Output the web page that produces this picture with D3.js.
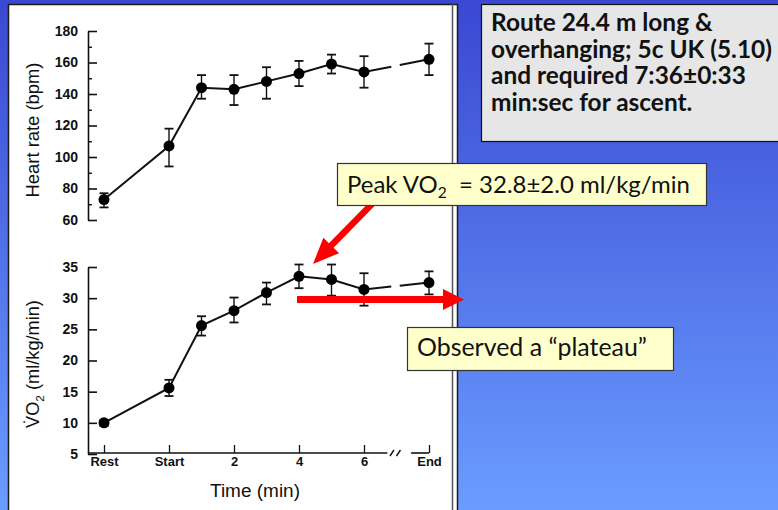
<!DOCTYPE html>
<html>
<head>
<meta charset="utf-8">
<script src="https://cdnjs.cloudflare.com/ajax/libs/d3/7.8.5/d3.min.js"></script>
<style>
  body { margin: 0; padding: 0; overflow: hidden; }
  svg { display: block; }
</style>
</head>
<body>
<div id="chart"></div>
<script>
// time axis: Rest = -2, Start = 0, End = 8 (minutes)
var tickTimes = [-2, 0, 2, 4, 6, 8];
var tickLabels = ["Rest", "Start", "2", "4", "6", "End"];
var pointTimes = [-2, 0, 1, 2, 3, 4, 5, 6, 8];

// heart rate (bpm)
var hrMean = [73, 107, 144, 143, 148, 153, 159, 154, 162];
var hrHigh = [77, 118, 152, 152, 157, 161, 165, 164, 172];
var hrLow  = [68, 94, 137, 133, 137, 145, 153, 144, 152];
var hrTicks = [60, 80, 100, 120, 140, 160, 180];
var hrMinor = [70, 90, 110, 130, 150, 170];

// VO2 (ml/kg/min)
var voMean = [10.0, 15.6, 25.6, 28.0, 30.9, 33.5, 33.0, 31.4, 32.5];
var voHigh = [10.5, 16.9, 27.1, 30.1, 32.5, 35.4, 35.4, 34.0, 34.3];
var voLow  = [9.5, 14.3, 24.0, 26.1, 29.0, 31.6, 30.4, 28.8, 30.6];
var voTicks = [5, 10, 15, 20, 25, 30, 35];

const W = 778, H = 510;
const svg = d3.select("#chart").append("svg")
    .attr("width", W)
    .attr("height", H);

// slide background
const defs = svg.append("defs");
const grad = defs.append("linearGradient")
    .attr("id", "bg").attr("x1", 0).attr("y1", 0).attr("x2", 0).attr("y2", 1);
grad.append("stop").attr("offset", "0%").attr("stop-color", "#3a48d2");
grad.append("stop").attr("offset", "100%").attr("stop-color", "#6a9cff");
svg.append("rect").attr("width", W).attr("height", H).attr("fill", "url(#bg)");

// white figure panel
svg.append("rect")
    .attr("x", 8.5).attr("y", 4.5)
    .attr("width", 449).attr("height", 520)
    .attr("fill", "#ffffff")
    .attr("stroke", "#1a1a1a").attr("stroke-width", 1.5);
svg.append("line")
    .attr("x1", 452.5).attr("x2", 452.5).attr("y1", 4).attr("y2", H)
    .attr("stroke", "#555").attr("stroke-width", 1.5);

// Define scales
const x = d3.scaleLinear().domain([-2, 8]).range([104, 429]);
const yHR = d3.scaleLinear().domain([60, 180]).range([220, 31]);
const yVO = d3.scaleLinear().domain([5, 35]).range([454, 267]);
const axisX = 88;

const scanFont = "'Liberation Sans', Arial, sans-serif";

function drawPanel(yScale, ticks, minor, mean, high, low) {
    const g = svg.append("g");

    // y axis, ticks pointing inward
    const ax = g.append("g")
        .attr("transform", `translate(${axisX},0)`)
        .call(d3.axisLeft(yScale).tickValues(ticks).tickSize(-9).tickSizeOuter(0).tickPadding(10));
    ax.select(".domain").attr("stroke", "#111").attr("stroke-width", 1.6);
    ax.selectAll(".tick line").attr("stroke", "#111").attr("stroke-width", 1.6);
    ax.selectAll("text")
        .style("font-family", scanFont)
        .style("font-size", "14px")
        .style("font-weight", "bold")
        .attr("fill", "#111");

    if (minor) {
        const mx = g.append("g")
            .attr("transform", `translate(${axisX},0)`)
            .call(d3.axisLeft(yScale).tickValues(minor).tickSize(-4).tickFormat(""));
        mx.select(".domain").remove();
        mx.selectAll(".tick line").attr("stroke", "#111").attr("stroke-width", 1.4);
    }

    // error bars
    pointTimes.forEach(function(t, i) {
        g.append("line")
            .attr("x1", x(t)).attr("x2", x(t))
            .attr("y1", yScale(high[i])).attr("y2", yScale(low[i]))
            .attr("stroke", "#111").attr("stroke-width", 1.4);
        [high[i], low[i]].forEach(function(v) {
            g.append("line")
                .attr("x1", x(t) - 4.5).attr("x2", x(t) + 4.5)
                .attr("y1", yScale(v)).attr("y2", yScale(v))
                .attr("stroke", "#111").attr("stroke-width", 1.8);
        });
    });

    // connecting line (broken before End)
    const pts = pointTimes.map((t, i) => [x(t), yScale(mean[i])]);
    const n = pts.length;
    const main = pts.slice(0, n - 1);
    const a = pts[n - 2], b = pts[n - 1];
    const lerp = (f) => [a[0] + (b[0] - a[0]) * f, a[1] + (b[1] - a[1]) * f];
    main.push(lerp(0.42));
    const line = d3.line();
    g.append("path").attr("d", line(main))
        .attr("fill", "none").attr("stroke", "#111").attr("stroke-width", 2);
    g.append("path").attr("d", line([lerp(0.55), b]))
        .attr("fill", "none").attr("stroke", "#111").attr("stroke-width", 2);

    // points
    g.selectAll(".dot")
        .data(pts)
        .enter()
        .append("circle")
        .attr("class", "dot")
        .attr("cx", d => d[0])
        .attr("cy", d => d[1])
        .attr("r", 5.5)
        .attr("fill", "#000");
    return g;
}

drawPanel(yHR, hrTicks, hrMinor, hrMean, hrHigh, hrLow);
const bottom = drawPanel(yVO, voTicks, null, voMean, voHigh, voLow);

// x axis of the lower panel
const xAxisY = 453;
const xa = bottom.append("g")
    .attr("transform", `translate(0,${xAxisY})`)
    .call(d3.axisBottom(x).tickValues(tickTimes).tickFormat((d, i) => tickLabels[i]).tickSize(-8).tickPadding(4));
xa.select(".domain").remove();
xa.selectAll(".tick line").attr("stroke", "#111").attr("stroke-width", 1.3);
xa.selectAll("text")
    .style("font-family", scanFont)
    .style("font-size", "13px")
    .style("font-weight", "bold")
    .attr("fill", "#111");
bottom.append("line")
    .attr("x1", axisX).attr("x2", x(6.72)).attr("y1", xAxisY).attr("y2", xAxisY)
    .attr("stroke", "#111").attr("stroke-width", 1.6);
bottom.append("line")
    .attr("x1", x(7.45)).attr("x2", x(8)).attr("y1", xAxisY).attr("y2", xAxisY)
    .attr("stroke", "#111").attr("stroke-width", 1.6);
[6.86, 7.06].forEach(function(t) {
    bottom.append("line")
        .attr("x1", x(t) - 2).attr("x2", x(t) + 2)
        .attr("y1", xAxisY + 3).attr("y2", xAxisY - 3)
        .attr("stroke", "#111").attr("stroke-width", 1.4);
});

// fit a text element's font size to a target width
function fitText(sel, targetWidth, startSize) {
    sel.style("font-size", startSize + "px");
    const w = sel.node().getComputedTextLength();
    const size = startSize * targetWidth / w;
    sel.style("font-size", size.toFixed(2) + "px");
    return size;
}

// axis titles
const hrTitle = svg.append("text")
    .attr("transform", "translate(39,130) rotate(-90)")
    .attr("text-anchor", "middle")
    .style("font-family", scanFont)
    .attr("fill", "#111")
    .text("Heart rate (bpm)");
fitText(hrTitle, 135, 16);

const voTitle = svg.append("text")
    .attr("transform", "translate(39,364) rotate(-90)")
    .attr("text-anchor", "middle")
    .style("font-family", scanFont)
    .attr("fill", "#111");
voTitle.append("tspan").text("V\u0307O");
voTitle.append("tspan").attr("dy", 5).style("font-size", "0.65em").text("2");
voTitle.append("tspan").attr("dy", -5).text(" (ml/kg/min)");
fitText(voTitle, 128, 16);

const timeTitle = svg.append("text")
    .attr("x", 255).attr("y", 497)
    .attr("text-anchor", "middle")
    .style("font-family", scanFont)
    .attr("fill", "#111")
    .text("Time (min)");
fitText(timeTitle, 90, 16);

const calloutFont = "Lato, 'Open Sans', sans-serif";

// grey info box
svg.append("rect")
    .attr("x", 481.5).attr("y", 4.5)
    .attr("width", 320).attr("height", 137)
    .attr("fill", "#e6e6e6")
    .attr("stroke", "#111").attr("stroke-width", 1.2);
const infoLines = ["Route 24.4 m long &", "overhanging; 5c UK (5.10)", "and required 7:36\u00b10:33", "min:sec for ascent."];
const infoText = svg.append("text")
    .style("font-family", calloutFont)
    .style("font-weight", "bold")
    .attr("fill", "#111");
infoLines.forEach(function(s, i) {
    infoText.append("tspan").attr("x", 491).attr("y", 31 + i * 26.6).text(s);
});
// size from widest line
const probe = svg.append("text").style("font-family", calloutFont).style("font-weight", "bold").text(infoLines[1]);
const infoSize = fitText(probe, 281, 18);
probe.remove();
infoText.style("font-size", infoSize.toFixed(2) + "px");

// red arrows
function arrow(x1, y1, x2, y2, shaft, headL, headW) {
    const dx = x2 - x1, dy = y2 - y1;
    const len = Math.sqrt(dx * dx + dy * dy);
    const ux = dx / len, uy = dy / len;
    const px = -uy, py = ux;
    const bx = x2 - ux * headL, by = y2 - uy * headL;
    const p = [
        [x1 + px * shaft / 2, y1 + py * shaft / 2],
        [bx + px * shaft / 2, by + py * shaft / 2],
        [bx + px * headW / 2, by + py * headW / 2],
        [x2, y2],
        [bx - px * headW / 2, by - py * headW / 2],
        [bx - px * shaft / 2, by - py * shaft / 2],
        [x1 - px * shaft / 2, y1 - py * shaft / 2]
    ];
    svg.append("path")
        .attr("d", "M" + p.map(q => q.join(",")).join("L") + "Z")
        .attr("fill", "#ff0000");
}
arrow(372, 204, 313, 264, 6.5, 26, 22);
arrow(297, 299.5, 464, 299.5, 7, 21, 21);

// yellow callouts
function callout(bx, by, bw, bh, tx, ty, width, build) {
    svg.append("rect")
        .attr("x", bx + 0.5).attr("y", by + 0.5)
        .attr("width", bw).attr("height", bh)
        .attr("fill", "#ffffcc")
        .attr("stroke", "#333").attr("stroke-width", 1.2);
    const t = svg.append("text")
        .attr("x", tx).attr("y", ty)
        .style("font-family", calloutFont)
        .attr("fill", "#111");
    build(t);
    fitText(t, width, 18);
    return t;
}
callout(337, 163, 369, 42, 347, 193, 343, function(t) {
    t.append("tspan").text("Peak VO");
    t.append("tspan").attr("dy", 5).style("font-size", "0.65em").text("2");
    t.append("tspan").attr("dy", -5).text("\u00a0 = 32.8\u00b12.0 ml/kg/min");
});
callout(407, 327, 266, 43, 417, 356, 230, function(t) {
    t.text("Observed a \u201cplateau\u201d");
});
</script>
</body>
</html>
